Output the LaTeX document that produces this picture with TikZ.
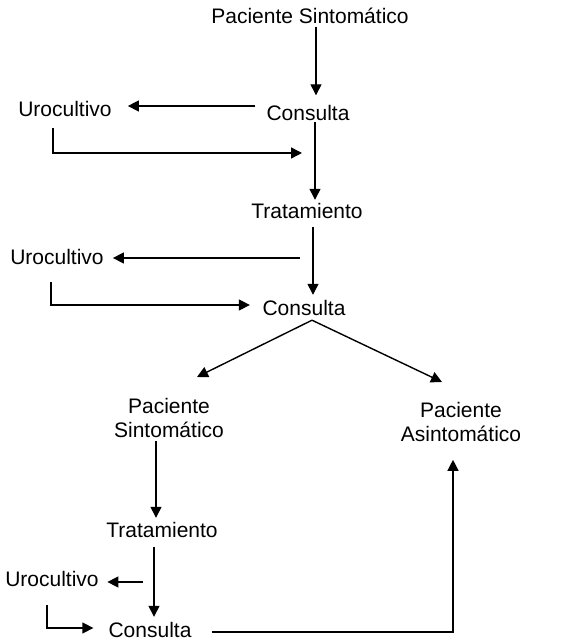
\documentclass[tikz,border=0pt]{standalone}
\usepackage{fontspec}
\setmainfont{Liberation Sans}
\usetikzlibrary{arrows.meta}
\tikzset{
    lbl/.style={inner sep=0pt, text height=15pt, text depth=0pt},
    lbltwo/.style={inner sep=0pt, align=center, anchor=north},
    flow/.style={-{Triangle[length=11pt,width=11pt]}, line width=1.4pt},
}
\begin{document}
\begin{tikzpicture}[x=1pt, y=1pt, font=\fontsize{21}{24}\selectfont]
    \useasboundingbox (0,0) rectangle (581,642);

    % First visit
    \node[lbl] (sint) at (310,626) {Paciente Sintomático};
    \node[lbl] (cons1) at (308,529) {Consulta};
    \node[lbl] (uro1) at (65,533) {Urocultivo};
    \node[lbl] (trat1) at (307,431) {Tratamiento};
    \coordinate (back1) at (302,489);

    % Second visit
    \node[lbl] (uro2) at (57,385) {Urocultivo};
    \node[lbl] (cons2) at (304,334) {Consulta};
    \coordinate (out2) at (300,384);

    % Outcome
    \node[lbltwo] (sint2) at (169,243.5) {Paciente\\Sintomático};
    \node[lbltwo] (asin) at (461,239.5) {Paciente\\Asintomático};

    % Lower loop
    \node[lbl] (trat2) at (162,112) {Tratamiento};
    \node[lbl] (uro3) at (52,63) {Urocultivo};
    \node[lbl] (cons3) at (150,12) {Consulta};
    \coordinate (out3) at (143,60);

    % Connectors
    \draw[flow] ([shift={(6,-3)}]sint.south) -- ([shift={(8,10)}]cons1.north);
    \draw[flow] ([shift={(-11,7)}]cons1.west) -- ([shift={(16,3)}]uro1.east);
    \draw[flow] ([shift={(-12,-11)}]uro1.south) |- (back1);
    \draw[flow] ([shift={(7,-1.5)}]cons1.south) -- ([shift={(8,3.5)}]trat1.north);
    \draw[flow] ([shift={(6,-8.5)}]trat1.south) -- ([shift={(9,5.5)}]cons2.north);
    \draw[flow] (out2) -- ([shift={(9,-1)}]uro2.east);
    \draw[flow] ([shift={(-6,-17.5)}]uro2.south) |- ([shift={(-12.5,3)}]cons2.west);
    \draw[flow] ([shift={(8,-4.5)}]cons2.south) -- ([shift={(28,21.5)}]sint2.north);
    \draw[flow] ([shift={(8,-4.5)}]cons2.south) -- ([shift={(-19,20.5)}]asin.north);
    \draw[flow] ([shift={(-13,-2.5)}]sint2.south) -- ([shift={(-6,4.5)}]trat2.north);
    \draw[flow] ([shift={(-8,-9.5)}]trat2.south) -- ([shift={(4,5.5)}]cons3.north);
    \draw[flow] (out3) -- ([shift={(8.5,-3)}]uro3.east);
    \draw[flow] ([shift={(-5,-18.5)}]uro3.south) |- ([shift={(-15,2)}]cons3.west);
    \draw[flow] ([shift={(20,-2)}]cons3.east) -| ([shift={(-8,-17.5)}]asin.south);
\end{tikzpicture}
\end{document}
